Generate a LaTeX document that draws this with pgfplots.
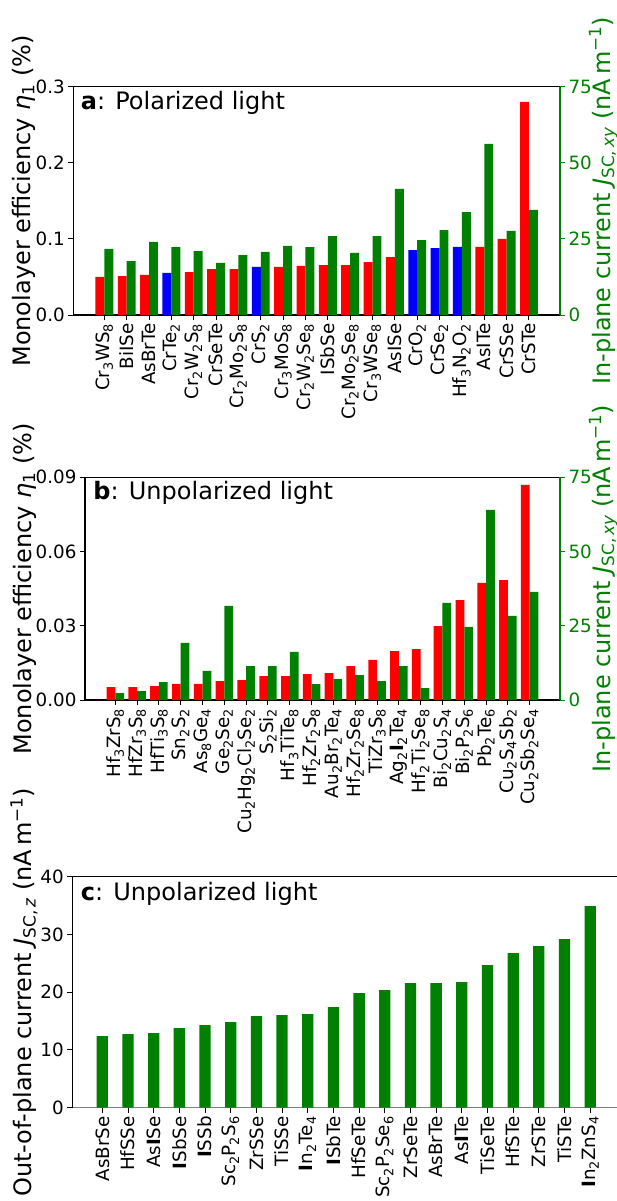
\documentclass[border=0pt]{standalone}
\usepackage{fontspec}
\setmainfont{DejaVu Sans}
\usepackage{pgfplots}
\pgfplotsset{compat=1.18}
\definecolor{mgreen}{RGB}{0,128,0}
\newcommand\tfs{\fontsize{18.3}{21}\selectfont}
\newcommand\lfs{\fontsize{24}{28}\selectfont}
\newcommand\s[1]{\textsubscript{#1}}

\pgfplotsset{
  base/.style={
    scale only axis, anchor=south west, enlargelimits=false,
    tick align=outside, major tick length=5pt,
    every tick/.style={line width=1pt},
    axis line style={-, line width=1.2pt},
    tick label style={font=\tfs},
    /pgf/number format/assume math mode=true,
    scaled y ticks=false,
    label style={font=\lfs},
    x tick label style={rotate=90, anchor=east},
  },
  lbar/.style={ybar, bar width=0.4, bar shift=-0.2, draw=none},
  rbar/.style={ybar, bar width=0.4, bar shift=0.2, draw=none, fill=mgreen},
  fix/.style={/pgf/number format/fixed, /pgf/number format/fixed zerofill,
    /pgf/number format/precision=#1},
}

\begin{document}
\begin{tikzpicture}

% ---- a: polarized light
\begin{axis}[base, at={(73.3pt,-315pt)}, width=486.7pt, height=228.3pt,
  xmin=-1.39, xmax=20.39, ymin=0, ymax=0.3, ytick={0,0.1,0.2,0.3},
  yticklabel style={fix=1},
  tick pos=left, xtick={0,...,19},
  xticklabels={Cr\s{3}WS\s{8}, BiISe, AsBrTe, CrTe\s{2}, Cr\s{2}W\s{2}S\s{8}, CrSeTe,
    Cr\s{2}Mo\s{2}S\s{8}, CrS\s{2}, Cr\s{3}MoS\s{8}, Cr\s{2}W\s{2}Se\s{8}, ISbSe,
    Cr\s{2}Mo\s{2}Se\s{8}, Cr\s{3}WSe\s{8}, AsISe, CrO\s{2}, CrSe\s{2},
    Hf\s{3}N\s{2}O\s{2}, AsITe, CrSSe, CrSTe},
  ylabel={Monolayer efficiency {\itshape η}\s{1} (\%)},
  ylabel style={at={(axis description cs:-0.1013,0.5)}, anchor=center}]
\addplot[lbar, fill=red] coordinates {(0,0.0500) (1,0.0512) (2,0.0526) (4,0.0565)
  (5,0.0604) (6,0.0604) (8,0.0631) (9,0.0644) (10,0.0657) (11,0.0657) (12,0.0696)
  (13,0.0762) (17,0.0894) (18,0.0999) (19,0.2799)};
\addplot[lbar, fill=blue] coordinates {(3,0.0552) (7,0.0631) (14,0.0854) (15,0.0880) (16,0.0894)};
\node[anchor=north west, inner sep=0pt, font=\lfs, xshift=7.4pt, yshift=-4pt]
  at (axis description cs:0,1) {\textbf{a}: Polarized light};
\end{axis}
\begin{axis}[base, at={(73.3pt,-315pt)}, width=486.7pt, height=228.3pt,
  xmin=-1.39, xmax=20.39, ymin=0, ymax=75, ytick={0,25,50,75}, xtick=\empty,
  axis y line*=right, axis x line=none,
  y axis line style={mgreen}, ytick style={mgreen}, yticklabel style={mgreen},
  ylabel={In-plane current {\itshape J}\s{SC,\,{\itshape xy}} (nA\,m\textsuperscript{−1})},
  ylabel style={mgreen, at={(axis description cs:1.089,0.5)}, anchor=center}]
\addplot[rbar] coordinates {(0,21.7) (1,17.7) (2,24.0) (3,22.3) (4,21.0) (5,17.1)
  (6,19.7) (7,20.7) (8,22.7) (9,22.3) (10,25.9) (11,20.4) (12,25.9) (13,41.4)
  (14,24.6) (15,27.9) (16,33.8) (17,56.2) (18,27.6) (19,34.5)};
\end{axis}

% ---- b: unpolarized light
\begin{axis}[base, at={(85pt,-700pt)}, width=475pt, height=222.7pt,
  xmin=-1.39, xmax=20.39, ymin=0, ymax=0.09, ytick={0,0.03,0.06,0.09},
  yticklabel style={fix=2},
  tick pos=left, xtick={0,...,19},
  xticklabels={Hf\s{3}ZrS\s{8}, HfZr\s{3}S\s{8}, HfTi\s{3}S\s{8}, Sn\s{2}S\s{2},
    As\s{8}Ge\s{4}, Ge\s{2}Se\s{2}, Cu\s{2}Hg\s{2}Cl\s{2}Se\s{2}, S\s{2}Si\s{2},
    Hf\s{3}TiTe\s{8}, Hf\s{2}Zr\s{2}S\s{8}, Au\s{2}Br\s{2}Te\s{4}, Hf\s{2}Zr\s{2}Se\s{8},
    TiZr\s{3}S\s{8}, Ag\s{2}\textbf{I}\s{2}Te\s{4}, Hf\s{2}Ti\s{2}Se\s{8}, Bi\s{2}Cu\s{2}S\s{4},
    Bi\s{2}P\s{2}S\s{6}, Pb\s{2}Te\s{6}, Cu\s{2}S\s{4}Sb\s{2}, Cu\s{2}Sb\s{2}Se\s{4}},
  ylabel={Monolayer efficiency {\itshape η}\s{1} (\%)},
  ylabel style={at={(axis description cs:-0.127,0.5)}, anchor=center}]
\addplot[lbar, fill=red] coordinates {(0,0.00525) (1,0.00525) (2,0.00566) (3,0.00647)
  (4,0.00647) (5,0.00768) (6,0.00808) (7,0.0097) (8,0.0097) (9,0.0105) (10,0.0109)
  (11,0.0137) (12,0.0162) (13,0.0198) (14,0.0206) (15,0.0299) (16,0.0404)
  (17,0.0473) (18,0.0485) (19,0.0869)};
\node[anchor=north west, inner sep=0pt, font=\lfs, xshift=8.3pt, yshift=-3.4pt]
  at (axis description cs:0,1) {\textbf{b}: Unpolarized light};
\end{axis}
\begin{axis}[base, at={(85pt,-700pt)}, width=475pt, height=222.7pt,
  xmin=-1.39, xmax=20.39, ymin=0, ymax=75, ytick={0,25,50,75}, xtick=\empty,
  axis y line*=right, axis x line=none,
  y axis line style={mgreen}, ytick style={mgreen}, yticklabel style={mgreen},
  ylabel={In-plane current {\itshape J}\s{SC,\,{\itshape xy}} (nA\,m\textsuperscript{−1})},
  ylabel style={mgreen, at={(axis description cs:1.091,0.5)}, anchor=center}]
\addplot[rbar] coordinates {(0,2.36) (1,3.03) (2,6.06) (3,19.2) (4,9.77) (5,31.7)
  (6,11.45) (7,11.45) (8,16.2) (9,5.39) (10,7.07) (11,8.42) (12,6.40) (13,11.45)
  (14,4.04) (15,32.7) (16,24.6) (17,64.0) (18,28.3) (19,36.4)};
\end{axis}

% ---- c: out-of-plane current
\begin{axis}[base, at={(72.3pt,-1107.7pt)}, width=548.7pt, height=231pt, clip=false,
  xmin=-1.17, xmax=20.2, ymin=0, ymax=40, ytick={0,10,20,30,40},
  axis y line*=left, axis x line*=bottom, x axis line style={gray},
  xtick={0,...,19},
  xticklabels={AsBrSe, HfSSe, As\textbf{I}Se, \textbf{I}SbSe, \textbf{I}SSb,
    Sc\s{2}P\s{2}S\s{6}, ZrSSe, TiSSe, \textbf{I}n\s{2}Te\s{4}, \textbf{I}SbTe, HfSeTe,
    Sc\s{2}P\s{2}Se\s{6}, ZrSeTe, AsBrTe, As\textbf{I}Te, TiSeTe, HfSTe, ZrSTe, TiSTe,
    \textbf{I}n\s{2}ZnS\s{4}},
  ylabel={Out-of-plane current {\itshape J}\s{SC,\,{\itshape z}} (nA\,m\textsuperscript{−1})},
  ylabel style={at={(axis description cs:-0.088,0.5)}, anchor=center}]
\addplot[ybar, bar width=0.44, bar shift=0, draw=none, fill=mgreen] coordinates {
  (0,12.41) (1,12.76) (2,12.93) (3,13.80) (4,14.31) (5,14.83) (6,15.87) (7,16.05)
  (8,16.22) (9,17.43) (10,19.86) (11,20.37) (12,21.59) (13,21.59) (14,21.76)
  (15,24.70) (16,26.78) (17,27.99) (18,29.21) (19,34.9)};
\draw[line width=1.2pt] (axis description cs:0,1) -- (axis description cs:1,1);
\node[anchor=north west, inner sep=0pt, font=\lfs, xshift=8.4pt, yshift=-5.5pt]
  at (axis description cs:0,1) {\textbf{c}: Unpolarized light};
\end{axis}

\pgfresetboundingbox
\path[use as bounding box] (0pt,0pt) rectangle (616pt,-1201pt);
\end{tikzpicture}
\end{document}
